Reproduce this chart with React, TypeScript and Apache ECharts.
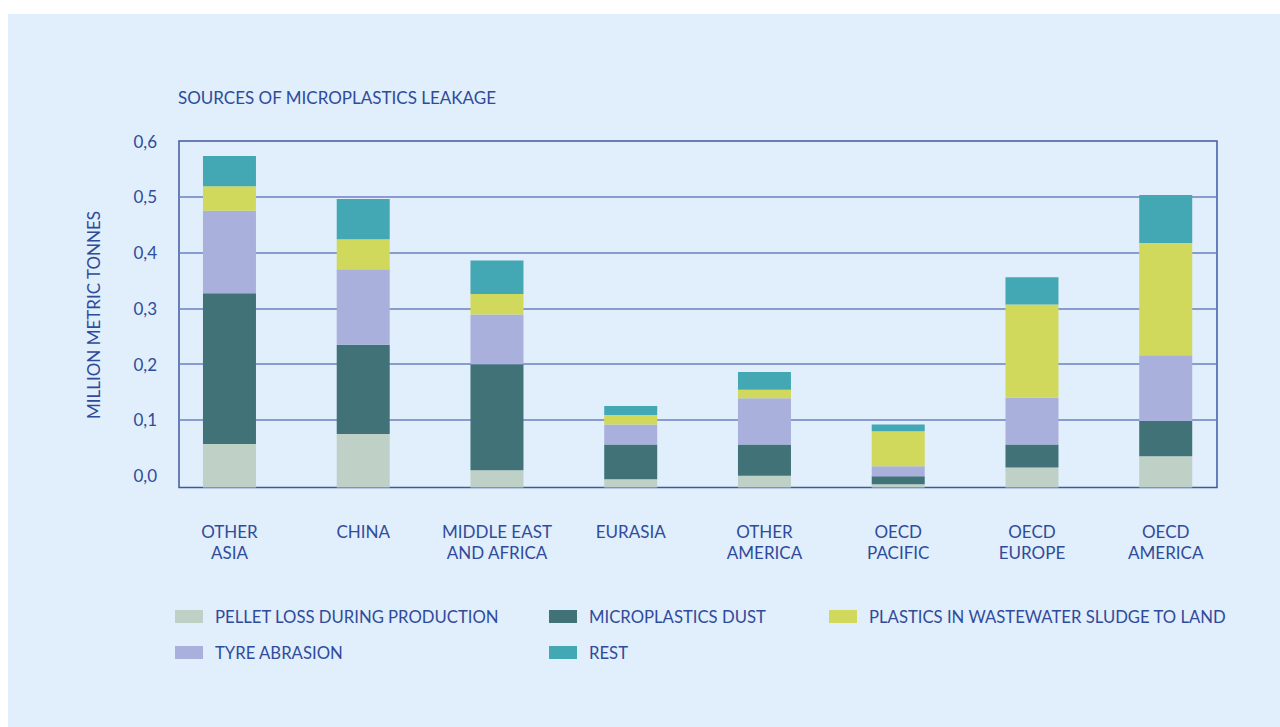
import React, { useEffect, useRef } from "react";
import * as echarts from "echarts";

const CATEGORIES = [
  "OTHER\nASIA",
  "CHINA",
  "MIDDLE EAST\nAND AFRICA",
  "EURASIA",
  "OTHER\nAMERICA",
  "OECD\nPACIFIC",
  "OECD\nEUROPE",
  "OECD\nAMERICA",
];

// segment heights (million metric tonnes)
const PELLET = [0.078, 0.096, 0.031, 0.015, 0.021, 0.006, 0.036, 0.056];
const DUST = [0.27, 0.16, 0.19, 0.062, 0.056, 0.014, 0.041, 0.063];
const TYRE = [0.148, 0.135, 0.089, 0.036, 0.083, 0.018, 0.084, 0.118];
const SLUDGE = [0.044, 0.054, 0.037, 0.017, 0.015, 0.063, 0.167, 0.201];
const REST = [0.054, 0.072, 0.06, 0.016, 0.032, 0.012, 0.049, 0.086];

const SERIES_NAMES = [
  "PELLET LOSS DURING PRODUCTION",
  "MICROPLASTICS DUST",
  "PLASTICS IN WASTEWATER SLUDGE TO LAND",
  "TYRE ABRASION",
  "REST",
];

const Y_TICKS = [0, 0.1, 0.2, 0.3, 0.4, 0.5, 0.6];
const GRID_LINES = [0.1, 0.2, 0.3, 0.4, 0.5];
const AXIS_MIN = -0.021; // bars start at the bottom of the frame, slightly below the 0,0 tick
const AXIS_MAX = 0.6;

const TITLE = "SOURCES OF MICROPLASTICS LEAKAGE";
const Y_NAME = "MILLION METRIC TONNES";

const TEXT = "#2f4b9b";
const FONT = "Lato";
const COLORS = {
  pellet: "#bfd0c6",
  dust: "#417277",
  sludge: "#d1d95c",
  tyre: "#a9b0db",
  rest: "#43a8b3",
};

export default function App() {
  const ref = useRef<HTMLDivElement>(null);

  useEffect(() => {
    if (!ref.current) return;
    const chart = echarts.init(ref.current, null, { renderer: "svg" });

    const barBase = {
      type: "bar",
      xAxisIndex: 1,
      yAxisIndex: 1,
      stack: "total",
      stackStrategy: "all",
      barWidth: 53,
      z: 2,
    };

    const legendBase = {
      padding: 0,
      itemWidth: 28,
      itemHeight: 13,
      icon: "rect",
      selectedMode: false,
      textStyle: {
        color: TEXT,
        fontSize: 16.7,
        fontFamily: FONT,
        padding: [0, 0, 0, 7],
      },
    };

    const option = {
      animation: false,
      graphic: [
        {
          type: "text",
          x: 178,
          y: 97,
          style: {
            text: TITLE,
            fill: TEXT,
            fontSize: 17,
            fontFamily: FONT,
            align: "left",
            verticalAlign: "middle",
          },
        },
        {
          type: "text",
          x: 93,
          y: 315,
          rotation: Math.PI / 2,
          style: {
            text: Y_NAME,
            fill: TEXT,
            fontSize: 17,
            fontFamily: FONT,
            align: "center",
            verticalAlign: "middle",
          },
        },
      ],
      grid: [
        {
          left: 179,
          top: 141,
          width: 1038,
          height: 346.5,
          show: true,
          borderColor: "#3f58a3",
          borderWidth: 1.5,
          backgroundColor: "transparent",
        },
        {
          left: 162.6,
          top: 141,
          width: 1070,
          height: 346.5,
        },
      ],
      xAxis: [
        { gridIndex: 0, type: "category", data: CATEGORIES, show: false },
        {
          gridIndex: 1,
          type: "category",
          data: CATEGORIES,
          axisLine: { show: false },
          axisTick: { show: false },
          axisLabel: {
            interval: 0,
            color: TEXT,
            fontSize: 17,
            fontFamily: FONT,
            lineHeight: 21,
            margin: 33,
          },
        },
      ],
      yAxis: [
        {
          gridIndex: 0,
          type: "value",
          min: AXIS_MIN,
          max: AXIS_MAX,
          axisLine: { show: false },
          axisTick: { show: false, customValues: GRID_LINES },
          axisLabel: {
            customValues: Y_TICKS,
            formatter: (v: number) => v.toFixed(1).replace(".", ","),
            margin: 22,
            color: TEXT,
            fontSize: 17,
            fontFamily: FONT,
          },
          splitLine: {
            show: true,
            lineStyle: { color: "#6a80c0", width: 1.5 },
          },
        },
        {
          gridIndex: 1,
          type: "value",
          min: AXIS_MIN,
          max: AXIS_MAX,
          startValue: AXIS_MIN,
          show: false,
          splitLine: { show: false },
        },
      ],
      legend: [
        { ...legendBase, data: [SERIES_NAMES[0]], left: 175, top: 608 },
        { ...legendBase, data: [SERIES_NAMES[1]], left: 549, top: 608 },
        { ...legendBase, data: [SERIES_NAMES[2]], left: 829, top: 608 },
        { ...legendBase, data: [SERIES_NAMES[3]], left: 175, top: 644 },
        { ...legendBase, data: [SERIES_NAMES[4]], left: 549, top: 644 },
      ],
      series: [
        {
          ...barBase,
          name: SERIES_NAMES[0],
          itemStyle: { color: COLORS.pellet },
          data: PELLET.map((v) => +(v + AXIS_MIN).toFixed(4)),
        },
        {
          ...barBase,
          name: SERIES_NAMES[1],
          itemStyle: { color: COLORS.dust },
          data: DUST,
        },
        {
          ...barBase,
          name: SERIES_NAMES[3],
          itemStyle: { color: COLORS.tyre },
          data: TYRE,
        },
        {
          ...barBase,
          name: SERIES_NAMES[2],
          itemStyle: { color: COLORS.sludge },
          data: SLUDGE,
        },
        {
          ...barBase,
          name: SERIES_NAMES[4],
          itemStyle: { color: COLORS.rest },
          data: REST,
        },
      ],
    };

    chart.setOption(option as any);
    return () => chart.dispose();
  }, []);

  return (
    <div
      style={{
        position: "fixed",
        left: 0,
        top: 0,
        width: 1280,
        height: 727,
        background: "#ffffff",
      }}
    >
      <div
        style={{
          position: "absolute",
          left: 8,
          top: 14,
          right: 0,
          bottom: 0,
          background: "#e1eefb",
        }}
      />
      <div
        ref={ref}
        style={{ position: "absolute", left: 0, top: 0, width: 1280, height: 727 }}
      />
    </div>
  );
}
